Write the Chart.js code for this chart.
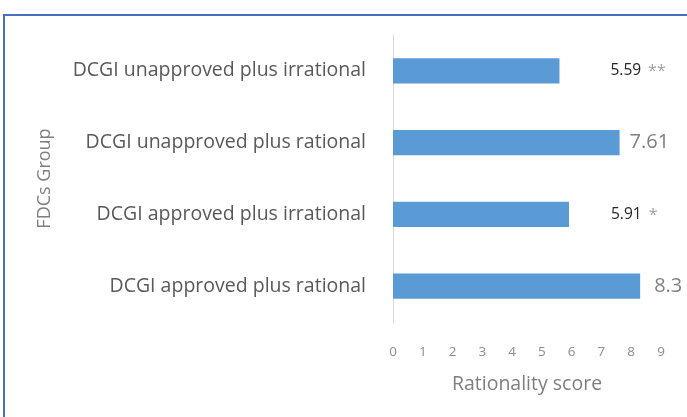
<!DOCTYPE html>
<html>
<head>
<meta charset="utf-8">
<script src="https://cdn.jsdelivr.net/npm/chart.js@4.4.1/dist/chart.umd.min.js"></script>
<style>
  html, body { margin: 0; padding: 0; background: #fff; }
  #wrap { position: relative; width: 687px; height: 417px; }
  #frame { position: absolute; left: 3px; top: 14px; right: -2px; bottom: -2px;
           border-top: 2px solid #4a6fbf; border-left: 2px solid #4a6fbf; pointer-events: none; }
  canvas { position: absolute; left: 0; top: 0; }
</style>
</head>
<body>
<div id="wrap">
  <canvas id="chart" width="687" height="417"></canvas>
  <div id="frame"></div>
</div>
<script>
// dati del grafico
const groups = [
  'DCGI unapproved plus irrational',
  'DCGI unapproved plus rational',
  'DCGI approved plus irrational',
  'DCGI approved plus rational'
];
const scores = [5.59, 7.61, 5.91, 8.3];
const valueTexts = ['5.59', '7.61', '5.91', '8.3'];
const marks = ['**', '', '*', ''];
const xTicks = [0, 1, 2, 3, 4, 5, 6, 7, 8, 9];

// etichette a destra delle barre
const valueLabels = {
  id: 'valueLabels',
  afterDatasetsDraw(chart, args, opts) {
    const ctx = chart.ctx;
    const meta = chart.getDatasetMeta(0);
    ctx.save();
    ctx.textBaseline = 'middle';
    ctx.textAlign = 'left';
    meta.data.forEach((bar, i) => {
      const x = bar.x + opts.offsets[i];
      const y = bar.y;
      ctx.font = opts.fonts[i];
      ctx.fillStyle = opts.colors[i];
      ctx.fillText(valueTexts[i], x, y);
      if (marks[i]) {
        const w = ctx.measureText(valueTexts[i]).width;
        ctx.font = '16px "Open Sans"';
        ctx.fillStyle = '#a0a0a0';
        ctx.fillText(marks[i], x + w + 7, y + 1);
      }
    });
    ctx.restore();
  }
};

new Chart(document.getElementById('chart'), {
  type: 'bar',
  data: {
    labels: groups,
    datasets: [{
      data: scores,
      backgroundColor: '#5b9bd5',
      borderWidth: 0,
      barPercentage: 0.35,
      categoryPercentage: 1
    }]
  },
  plugins: [valueLabels],
  options: {
    indexAxis: 'y',
    responsive: false,
    animation: false,
    layout: { padding: { left: 30, top: 35, right: 26, bottom: 17 } },
    plugins: {
      legend: { display: false },
      tooltip: { enabled: false },
      valueLabels: {
        offsets: [51, 10, 42, 14],
        fonts: ['15.5px "Open Sans"', '20px "Open Sans"', '15.5px "Open Sans"', '20px "Open Sans"'],
        colors: ['#262626', '#7f7f7f', '#262626', '#7f7f7f']
      }
    },
    scales: {
      x: {
        min: 0,
        max: 9,
        afterBuildTicks: s => { s.ticks = xTicks.map(v => ({ value: v })); },
        grid: { display: false },
        border: { display: false },
        ticks: { color: '#8c8c8c', font: { family: 'Open Sans', size: 13.5 }, padding: 14 },
        title: { display: true, text: 'Rationality score', color: '#7f7f7f',
                 font: { family: 'Open Sans', size: 19.5 }, padding: { top: 14 } },
        afterFit: s => { s.height = 78; }
      },
      y: {
        grid: { display: false },
        border: { display: true, color: '#d9d9d9', width: 1 },
        ticks: { color: '#595959', font: { family: 'Open Sans', size: 19.5 }, padding: 19 },
        title: { display: true, text: 'FDCs Group', color: '#7f7f7f',
                 font: { family: 'Open Sans', size: 18 } },
        afterFit: s => { s.width = 363; }
      }
    }
  }
});
</script>
</body>
</html>
